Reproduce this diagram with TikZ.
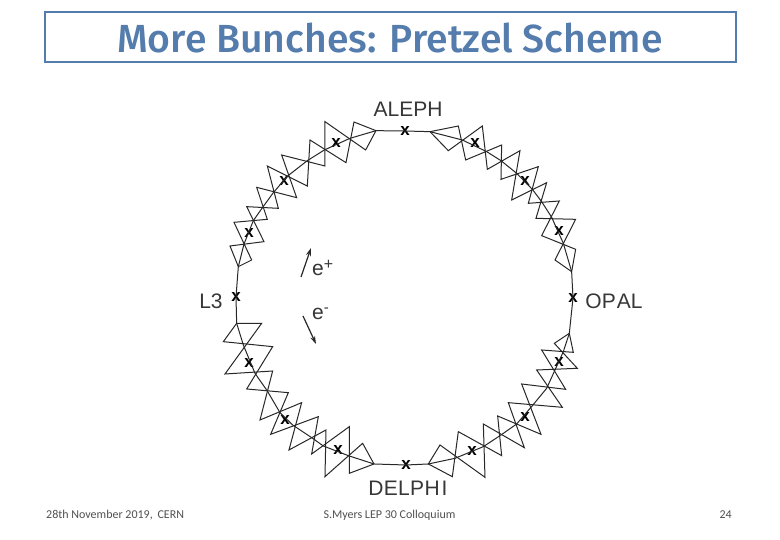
\documentclass[tikz,border=0pt]{standalone}
\usepackage{fontspec}
\setmainfont{Liberation Sans}
\newfontfamily\titlefont{Fira Sans}[UprightFont=* Medium]
\newfontfamily\footfont{Carlito}
\definecolor{slateblue}{RGB}{84,124,172}
\definecolor{ink}{RGB}{40,40,40}
\definecolor{labgray}{RGB}{55,55,55}
\definecolor{footgray}{RGB}{80,80,80}
\usetikzlibrary{arrows.meta}
\tikzset{
  lobe/.style={draw=ink,line width=1pt,line join=miter},
  chain/.style={draw=ink,line width=1pt},
  xmark/.style={inner sep=0pt,font=\bfseries\fontsize{17}{17}\selectfont,text=black},
  lab/.style={inner sep=0pt,text=labgray,font=\fontsize{21}{22}\selectfont},
  foot/.style={inner sep=0pt,text=footgray,font=\footfont\fontsize{12}{13}\selectfont},
  beam/.style={draw=ink,line width=1.2pt,-{Stealth[length=8pt,width=5pt]}},
}
\begin{document}
\begin{tikzpicture}[x=1pt,y=-1pt]
\useasboundingbox (0,0) rectangle (780,540);
\fill[white] (0,0) rectangle (780,540);
\node[draw=slateblue,line width=2pt,minimum width=691pt,minimum height=50pt,inner sep=0pt,
      text=slateblue,font=\titlefont\fontsize{39.2}{41}\selectfont] (title) at (390,37.5) {More Bunches: Pretzel Scheme};

% crossing marks
\foreach \n/\px/\py in {a/405/131,b/336/143,c/284/181,d/249/233,e/236/297,f/249/363,g/285/420,h/338/450,i/406/465,j/472/451,k/525/417,l/559/362,m/573/298,n/559/231,o/525/181,p/475/143}
  \node[xmark] (x\n) at (\px,\py) {x};

% top-left quadrant
\begin{scope}[xshift=190pt,yshift=-90pt,x=0.3333pt,y=-0.3333pt]
\draw[chain] (xa.center)--(558,122)--(480,145)--(403,180)--(352,212)--(293,258)--(250,308)--(218,352)--(190,392)--(162,462)--(145,530)--(xe.center);
\draw[lobe] (145,530)--(120,468)--(222,455)--(170,350)--(265,355)--(232,228)--(352,288)--(360,150)--(468,218)--(492,96)--(558,122);
\draw[lobe] (145,530)--(185,510)--(132,397)--(232,388)--(200,292)--(320,323)--(275,195)--(405,228)--(405,95)--(527,180)--(558,122);
\end{scope}

% top-right quadrant
\begin{scope}[xshift=400pt,yshift=-90pt,x=0.3333pt,y=-0.3333pt]
\draw[chain] (xa.center)--(90,125)--(187,150)--(260,185)--(303,212)--(350,250)--(397,298)--(425,335)--(455,382)--(490,460)--(515,545)--(xm.center);
\draw[lobe] (90,125)--(175,108)--(197,210)--(305,165)--(303,268)--(415,230)--(385,340)--(478,333)--(425,437)--(527,478)--(515,545);
\draw[lobe] (90,125)--(145,182)--(247,108)--(262,238)--(360,182)--(335,330)--(440,278)--(408,385)--(527,388)--(465,510)--(515,545);
\end{scope}

% bottom-left quadrant
\begin{scope}[xshift=190pt,yshift=-290pt,x=0.3333pt,y=-0.3333pt]
\draw[chain] (xe.center)--(140,100)--(160,165)--(195,250)--(232,303)--(270,368)--(308,405)--(368,445)--(400,468)--(475,497)--(552,522)--(xi.center);
\draw[lobe] (140,100)--(215,100)--(105,252)--(248,243)--(210,390)--(335,338)--(297,480)--(408,420)--(405,560)--(518,460)--(552,522);
\draw[lobe] (140,100)--(100,155)--(248,170)--(170,297)--(295,308)--(242,433)--(385,380)--(365,492)--(478,410)--(478,550)--(552,522);
\end{scope}

% bottom-right quadrant
\begin{scope}[xshift=400pt,yshift=-290pt,x=0.3333pt,y=-0.3333pt]
\draw[chain] (xm.center)--(508,130)--(490,185)--(465,240)--(440,295)--(393,352)--(350,402)--(303,435)--(250,470)--(165,505)--(85,522)--(xi.center);
\draw[lobe] (508,130)--(520,187)--(425,180)--(497,298)--(365,282)--(423,433)--(293,378)--(305,497)--(175,425)--(157,560)--(85,522);
\draw[lobe] (508,130)--(463,160)--(532,235)--(410,240)--(487,352)--(325,338)--(373,473)--(250,402)--(255,562)--(120,465)--(85,522);
\end{scope}

\node[lab] (aleph) at (408,109) {ALEPH};
\node[lab] (delphi) at (408,488) {D\kern0.3pt E\kern0.3pt L\kern0.3pt P\kern0.3pt H\kern2pt I};
\node[lab] (ltri) at (211,301) {L3};
\node[lab] (opal) at (614,301) {OP\kern1pt AL};
\node[lab,anchor=west] (ep) at (312,268) {e\raisebox{6pt}{\fontsize{16}{16}\selectfont +}};
\node[lab,anchor=west] (em) at (312,314) {e\raisebox{7pt}{\fontsize{15}{15}\selectfont -}};

\coordinate (epa) at (301,277);
\coordinate (epb) at (311,248);
\coordinate (ema) at (303,316);
\coordinate (emb) at (316,344);
\draw[beam] (epa)--(epb);
\draw[beam] (ema)--(emb);

\node[foot,anchor=west] (fl) at (46,515) {28th November 2019,\, CERN};
\node[foot] (fc) at (389.5,515) {S.Myers LEP 30 Colloquium};
\node[foot,anchor=east] (fr) at (732,515) {24};
\end{tikzpicture}
\end{document}
